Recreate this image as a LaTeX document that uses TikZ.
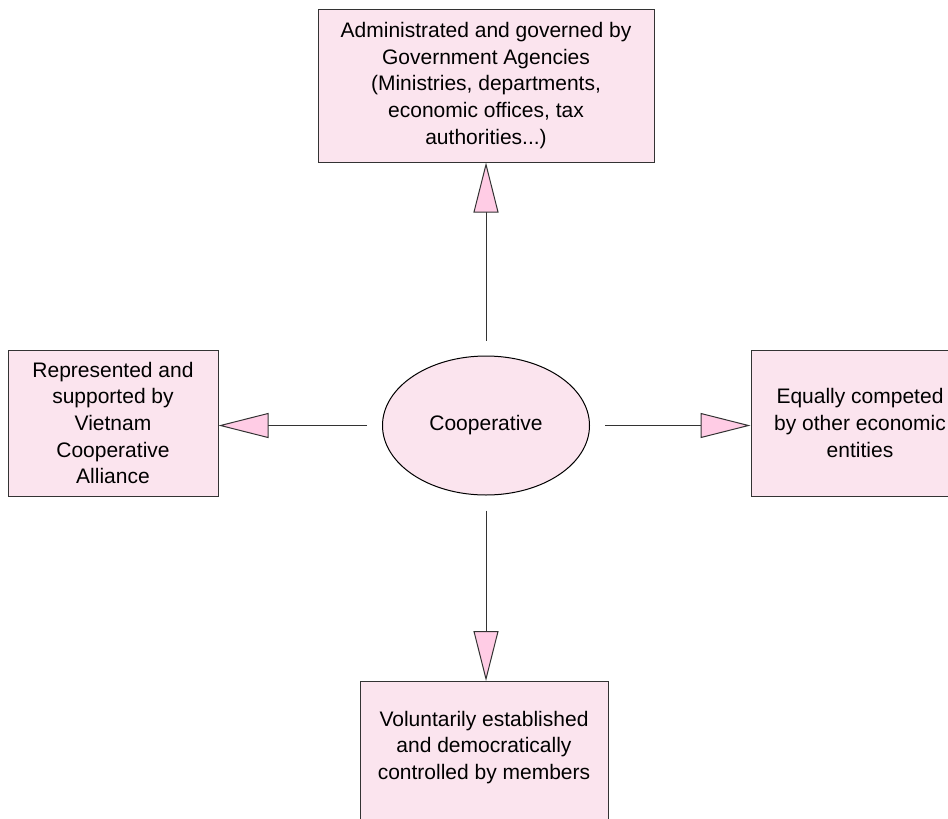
\documentclass[tikz,border=0pt]{standalone}
\usepackage{fontspec}
\setmainfont{Liberation Sans}
\usetikzlibrary{shapes.geometric,arrows.meta}
\definecolor{boxpink}{HTML}{FBE4EE}
\definecolor{headpink}{HTML}{FFCCE5}
\definecolor{edgegray}{HTML}{333333}
\begin{document}
\begin{tikzpicture}[x=1pt,y=-1pt,
  txt/.style={font=\fontsize{21}{26.7}\selectfont, align=center},
  box/.style={txt, draw=edgegray, fill=boxpink, line width=1pt, inner sep=0pt},
  coopshape/.style={txt, ellipse, draw=black, fill=boxpink, line width=1pt,
    minimum width=207pt, minimum height=139pt, inner sep=0pt},
  conn/.style={draw=edgegray, line width=1pt,
    -{Triangle[length=50pt,width=25pt,fill=headpink]}, shorten <=15pt}]
\useasboundingbox (0,0) rectangle (948,819);
\clip (0,0) rectangle (948,819);
\node[coopshape] (coop) at (486,425.5) {Cooperative};
\node[box, minimum width=336pt, minimum height=153pt] (gov) at (486,85.5)
  {Administrated and governed by\\Government Agencies\\(Ministries, departments,\\economic offices, tax\\authorities...)};
\node[box, minimum width=210pt, minimum height=146pt] (rep) at (113,423)
  {Represented and\\supported by\\Vietnam\\Cooperative\\Alliance};
\node[box, minimum width=218pt, minimum height=146pt] (eq) at (860,423)
  {Equally competed\\by other economic\\entities};
\node[box, minimum width=248pt, minimum height=160pt, anchor=north,
  label={[txt, yshift=14pt]center:Voluntarily established\\and democratically\\controlled by members}]
  (vol) at (484,681) {};
\draw[conn] (coop.north) -- (gov.south);
\draw[conn] (coop.west) -- (coop.west -| rep.east);
\draw[conn] (coop.east) -- (coop.east -| eq.west);
\draw[conn] (coop.south) -- (coop.south |- vol.north);
\end{tikzpicture}
\end{document}
